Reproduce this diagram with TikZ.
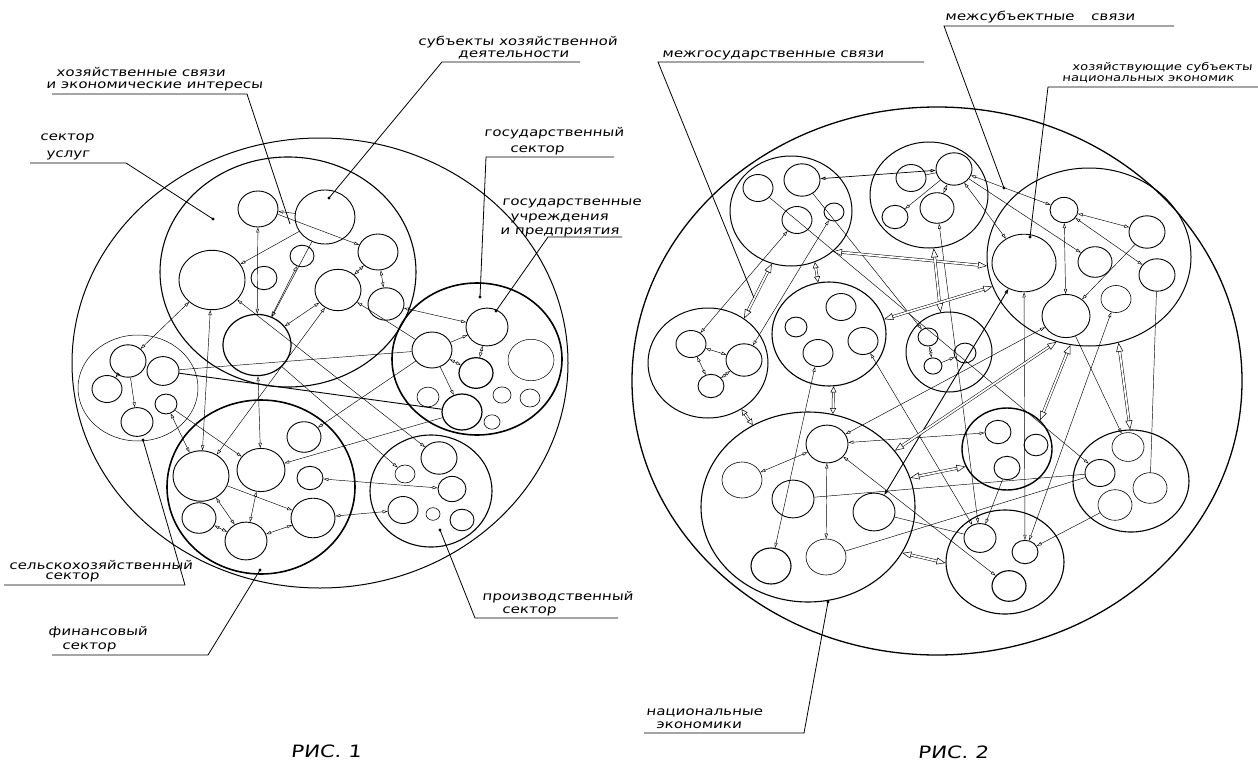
\documentclass[tikz,border=0pt]{standalone}
\usepackage{fontspec}
\newfontfamily\hand[FakeStretch=1.25,FakeSlant=0.12]{DejaVu Sans}
\usetikzlibrary{shapes.geometric,arrows.meta}
\tikzset{
 cir/.style={draw, ellipse, inner sep=0pt, line width=0.9pt, minimum width={2*#1}, minimum height={1.8*#1}},
 ell/.style 2 args={draw, ellipse, inner sep=0pt, minimum width={2*#1}, minimum height={2*#2}},
 onew/.style={line width=0.45pt, -{Triangle[open,length=5pt,width=3.2pt]}},
 twow/.style={line width=0.45pt, {Triangle[open,length=5pt,width=3.2pt]}-{Triangle[open,length=5pt,width=3.2pt]}},
 lnk/.style={line width=0.45pt},
 dbl/.style={double, double distance=1.8pt, line width=0.5pt, {Triangle[open,length=9pt,width=7pt]}-{Triangle[open,length=9pt,width=7pt]}},
 dbls/.style={double, double distance=1.6pt, line width=0.5pt, {Triangle[open,length=6pt,width=6pt]}-{Triangle[open,length=6pt,width=6pt]}},
 lead/.style={line width=0.8pt},
 lab/.style={font={\hand\fontsize{12}{12}\selectfont}, inner sep=0pt, anchor=west},
 labs/.style={font={\hand\fontsize{10.5}{10.5}\selectfont}, inner sep=0pt, anchor=west},
 figcap/.style={font={\hand\fontsize{17}{17}\selectfont}, inner sep=0pt},
}
\begin{document}
\begin{tikzpicture}[x=1pt,y=-1pt]
\useasboundingbox (0,0) rectangle (1258,760);
\fill[white] (0,0) rectangle (1258,760);

% ================= FIGURE 1 =================
\node[ell={248}{225}, line width=1pt] (O1) at (320,363) {};
\node[ell={128}{115}, line width=1.1pt] (S) at (288,272) {};
\node[ell={60}{53}, line width=0.5pt] (A) at (138,388) {};
\node[ell={85}{76}, line width=1.6pt] (G) at (477,359) {};
\node[ell={94}{87}, line width=1.6pt] (F) at (261,487) {};
\node[ell={61}{56}, line width=1.1pt] (P) at (431,491) {};

\node[cir=20] (c1) at (258,209) {};
\node[cir=30] (c2) at (325,217) {};
\node[cir=33] (c3) at (212,280) {};
\node[cir=13] (c4) at (264,278) {};
\node[cir=12] (c5) at (302,256) {};
\node[cir=20] (c6) at (378,252) {};
\node[cir=23] (c7) at (338,290) {};
\node[cir=18] (c8) at (386,304) {};
\node[cir=34,line width=1.2pt] (c9) at (257,345) {};

\node[cir=18] (a1) at (128,361) {};
\node[cir=16] (a2) at (163,371) {};
\node[cir=15] (a3) at (107,389) {};
\node[cir=11] (a4) at (166,404) {};
\node[cir=16] (a5) at (137,422) {};

\node[cir=21] (s1) at (487,327) {};
\node[cir=20] (s2) at (432,350) {};
\node[cir=17,line width=1.2pt] (s3) at (476,373) {};
\node[cir=23,line width=0.5pt] (s4) at (531,360) {};
\node[cir=11,line width=0.6pt] (s5) at (428,397) {};
\node[cir=20,line width=1.2pt] (s6) at (462,412) {};
\node[cir=9,line width=0.6pt] (s7) at (502,395) {};
\node[cir=10,line width=0.6pt] (s8) at (530,398) {};
\node[cir=8,line width=0.6pt] (s9) at (492,422) {};

\node[cir=28] (f1) at (201,476) {};
\node[cir=24] (f2) at (261,470) {};
\node[cir=17] (f3) at (304,437) {};
\node[cir=13] (f4) at (310,478) {};
\node[cir=17] (f5) at (199,518) {};
\node[cir=21] (f6) at (246,541) {};
\node[cir=22] (f7) at (313,518) {};

\node[cir=18] (p1) at (439,458) {};
\node[cir=10,line width=0.6pt] (p2) at (405,474) {};
\node[cir=14] (p3) at (452,489) {};
\node[cir=15] (p4) at (403,510) {};
\node[cir=7,line width=0.6pt] (p5) at (433,514) {};
\node[cir=12] (p6) at (462,520) {};

% connectors fig 1
\draw[onew] (c2) -- (c1);
\draw[onew] (c2) -- (c3);
\draw[onew] (c1.-15) -- (c6);
\draw[twow] (c1) -- (c9);
\draw[onew] (c2) -- (c9);
\draw[twow] (c5) -- (c9);
\draw[twow] (c7) -- (c9);
\draw[twow] (c6) -- (c7);
\draw[twow] (c6) -- (c8);
\draw[twow] (c8) -- (s1);
\draw[twow] (c3) -- (a1);
\draw[twow] (c3) -- (f1);
\draw[twow] (c9) -- (f2);
\draw[twow] (c3) -- (p1);
\draw[twow] (c7) -- (f1);
\draw[onew] (s2) -- (c7);
\draw[line width=0.9pt] (a2) -- (s6);
\draw[lnk] (a2) -- (s2);
\draw[onew] (s2) -- (s1);
\draw[onew] (s2) -- (f3);
\draw[onew] (s6) -- (f2);
\draw[onew] (s2) -- (s6);
\draw[twow] (s1) -- (s3);
\draw[twow] (s2) -- (s3);
\draw[onew] (c9) -- (p2);
\draw[onew] (f1) -- (f7);
\draw[twow] (f1) -- (f6);
\draw[twow] (f2) -- (f6);
\draw[twow] (f5) -- (f6);
\draw[twow] (f6) -- (f7);
\draw[twow] (f7) -- (p4);
\draw[twow] (f4) -- (p3);
\draw[twow] (a4) -- (f1);
\draw[onew] (a4) -- (f2);
\draw[onew] (a1) -- (a3);
\draw[onew] (a1) -- (a5);

% labels fig 1
\node[lab] (t1a) at (418,42) {субъекты хозяйственной};
\node[lab] (t1b) at (458,55) {деятельности};
\coordinate (u1a) at (442,62); \coordinate (u1b) at (580,62); \coordinate (d1) at (329,198);
\draw[lead] (u1b) -- (u1a) -- (d1); \fill (d1) circle (1.6pt);

\node[lab] (t2a) at (56,72) {хозяйственные связи};
\node[lab] (t2b) at (46,86) {и экономические интересы};
\coordinate (u2a) at (52,94); \coordinate (u2b) at (247,94); \coordinate (d2) at (290,224);
\draw[lead] (u2a) -- (u2b) -- (d2);

\node[lab] (t3a) at (40,138) {сектор};
\node[lab] (t3b) at (46,155) {услуг};
\coordinate (u3a) at (30,163); \coordinate (u3b) at (126,163); \coordinate (d3) at (213,219);
\draw[lead] (u3a) -- (u3b) -- (d3); \fill (d3) circle (1.6pt);

\node[lab] (t4a) at (484,133) {государственный};
\node[lab] (t4b) at (510,150) {сектор};
\coordinate (u4a) at (614,157); \coordinate (u4b) at (486,157); \coordinate (d4) at (480,297);
\draw[lead] (u4a) -- (u4b) -- (d4); \fill (d4) circle (1.6pt);

\node[lab] (t5a) at (502,203) {государственные};
\node[lab] (t5b) at (510,218) {учреждения};
\node[lab] (t5c) at (500,232) {и предприятия};
\coordinate (u5a) at (622,237); \coordinate (u5b) at (548,237); \coordinate (d5) at (496,311);
\draw[lead] (u5a) -- (u5b) -- (d5); \fill (d5) circle (1.6pt);

\node[lab] (t6a) at (9,565) {сельскохозяйственный};
\node[lab] (t6b) at (45,577) {сектор};
\coordinate (u6a) at (4,585); \coordinate (u6b) at (185,585); \coordinate (d6) at (143,440);
\draw[lead] (u6a) -- (u6b) -- (d6); \fill (d6) circle (1.6pt);

\node[lab] (t7a) at (48,632) {финансовый};
\node[lab] (t7b) at (62,647) {сектор};
\coordinate (u7a) at (52,655); \coordinate (u7b) at (208,655); \coordinate (d7) at (260,570);
\draw[lead] (u7a) -- (u7b) -- (d7); \fill (d7) circle (1.6pt);

\node[lab] (t8a) at (482,597) {производственный};
\node[lab] (t8b) at (502,611) {сектор};
\coordinate (u8a) at (618,618); \coordinate (u8b) at (475,618); \coordinate (d8) at (440,530);
\draw[lead] (u8a) -- (u8b) -- (d8); \fill (d8) circle (1.6pt);

\node[figcap] (r1) at (326,751) {РИС. 1};

% ================= FIGURE 2 =================
\node[ell={305}{274}, line width=1.3pt] (O2) at (937,381) {};
\node[ell={61}{55}, line width=1pt] (N1) at (791,211) {};
\node[ell={59}{53}, line width=1pt] (N2) at (929,195) {};
\node[ell={102}{89}, line width=1pt] (N3) at (1089,257) {};
\node[ell={60}{55}, line width=1pt] (N4) at (708,363) {};
\node[ell={57}{52}, line width=1.1pt] (N5) at (829,334) {};
\node[ell={43}{40}, line width=1pt] (N6) at (949,352) {};
\node[ell={107}{95}, line width=1.1pt] (N7) at (808,507) {};
\node[ell={45}{41}, line width=1.4pt] (N8) at (1007,449) {};
\node[ell={58}{51}, line width=1.1pt] (N9) at (1131,481) {};
\node[ell={59}{52}, line width=1.1pt] (N10) at (1005,562) {};

\node[cir=15] (n1a) at (758,188) {};
\node[cir=18] (n1b) at (802,180) {};
\node[cir=15] (n1c) at (797,220) {};
\node[cir=10] (n1d) at (834,212) {};
\node[cir=15] (n2a) at (911,178) {};
\node[cir=18] (n2b) at (954,169) {};
\node[cir=13] (n2c) at (895,217) {};
\node[cir=17] (n2d) at (937,208) {};
\node[cir=32] (n3a) at (1024,263) {};
\node[cir=14] (n3b) at (1064,210) {};
\node[cir=18] (n3c) at (1147,232) {};
\node[cir=17] (n3d) at (1095,262) {};
\node[cir=18] (n3e) at (1157,275) {};
\node[cir=24] (n3f) at (1066,316) {};
\node[cir=15,line width=0.6pt] (n3g) at (1116,299) {};
\node[cir=15] (n4a) at (691,344) {};
\node[cir=18] (n4b) at (744,360) {};
\node[cir=13] (n4c) at (711,386) {};
\node[cir=15] (n5a) at (841,307) {};
\node[cir=11] (n5b) at (796,327) {};
\node[cir=15] (n5c) at (818,353) {};
\node[cir=15] (n5d) at (863,341) {};
\node[cir=10] (n6a) at (928,337) {};
\node[cir=11] (n6b) at (965,353) {};
\node[cir=9] (n6c) at (933,366) {};
\node[cir=21] (n7a) at (827,444) {};
\node[cir=20,line width=0.6pt] (n7b) at (742,480) {};
\node[cir=21] (n7c) at (793,499) {};
\node[cir=21] (n7d) at (874,512) {};
\node[cir=20,line width=1.1pt] (n7e) at (771,566) {};
\node[cir=20,line width=0.6pt] (n7f) at (826,557) {};
\node[cir=13] (n8a) at (998,432) {};
\node[cir=12] (n8b) at (1036,445) {};
\node[cir=13] (n8c) at (1007,468) {};
\node[cir=16,line width=0.6pt] (n9a) at (1128,447) {};
\node[cir=15] (n9b) at (1100,473) {};
\node[cir=17,line width=0.6pt] (n9c) at (1150,488) {};
\node[cir=17,line width=0.6pt] (n9d) at (1115,505) {};
\node[cir=16] (n10a) at (980,538) {};
\node[cir=13] (n10b) at (1025,552) {};
\node[cir=17,line width=1.1pt] (n10c) at (1009,586) {};

% connectors fig 2
\draw[twow,line width=0.7pt] (n1b) -- (n2b);
\draw[lnk] (n2a) -- (n2b);
\draw[onew] (n2b) -- (n2c);
\draw[twow] (n2b) -- (n2d);
\draw[twow] (n2b) -- (n3b);
\draw[twow] (n2b) -- (n3a);
\draw[onew] (n2b) -- (n3d);
\draw[twow] (n3b) -- (n3c);
\draw[twow] (n3b) -- (n3f);
\draw[twow] (n3b) -- (n3e);
\draw[onew] (n3c) -- (n3f);
\draw[onew] (n1a) -- (n9b);
\draw[onew] (n1b) -- (n6a);
\draw[twow] (n1c) -- (n4a);
\draw[twow] (n1d) -- (n4b);
\draw[twow] (n4a) -- (n4b);
\draw[twow] (n4a) -- (n4c);
\draw[twow] (n4b) -- (n4c);
\draw[twow] (n5c) -- (n7e);
\draw[twow] (n5d) -- (n10a);
\draw[twow] (n2d) -- (n10a);
\draw[twow] (n3a) -- (n10b);
\draw[twow] (n3g) -- (n10b);
\draw[onew] (n9d) -- (n10b);
\draw[twow] (n7a) -- (n10c);
\draw[lnk] (n7d) -- (n10a);
\draw[lnk] (n7f) -- (n9b);
\draw[lnk] (n7c) -- (n9b);
\draw[twow] (n7a) -- (n8a);
\draw[twow] (n7a) -- (n7b);
\draw[twow] (n7a) -- (n7f);
\draw[twow] (n3f) -- (n7a);
\draw[twow,line width=0.9pt] (n3a) -- (n7d);
\draw[lnk] (n3e) -- (n9c);
\draw[onew] (n3f) -- (n9a);
\draw[onew] (n8c) -- (n10a);
\draw[twow] (n6a) -- (n6c);
\draw[onew] (n6c) -- (n6b);

\draw[dbl] (N1.250) -- (N4.51);
\draw[dbls] (N1.295) -- (N5.102);
\draw[dbl] (N1.316) -- (N3.185);
\draw[dbl] (N2.275) -- (N6.102);
\draw[dbl] (N5.15) -- (N3.197);
\draw[dbls] (N4.306) -- (N7.124);
\draw[dbls] (N5.275) -- (N7.75);
\draw[dbl] (N3.258) -- (N8.41);
\draw[dbl] (N3.289) -- (N9.91);
\draw[dbl] (N7.33) -- (N3.249);
\draw[dbl] (N7.16) -- (N8.203);
\draw[dbl] (N7.334) -- (N10.181);

% labels fig 2
\node[lab] (m1) at (662,55) {межгосударственные связи};
\coordinate (v1a) at (924,62); \coordinate (v1b) at (658,62); \coordinate (e1) at (754,298);
\draw[lead] (v1a) -- (v1b) -- (e1);

\node[lab] (m2) at (945,17) {межсубъектные\quad\ связи};
\coordinate (v2a) at (1174,26); \coordinate (v2b) at (944,26); \coordinate (e2) at (1004,188);
\draw[lead] (v2a) -- (v2b) -- (e2); \fill (e2) circle (1.6pt);

\node[labs] (m3a) at (1072,68) {хозяйствующие субъекты};
\node[labs] (m3b) at (1062,79) {национальных экономик};
\coordinate (v3a) at (1258,87); \coordinate (v3b) at (1048,87); \coordinate (e3) at (1030,237);
\draw[lead] (v3a) -- (v3b) -- (e3); \fill (e3) circle (1.6pt);

\node[lab] (m4a) at (646,713) {национальные};
\node[lab] (m4b) at (656,725) {экономики};
\coordinate (v4a) at (644,733); \coordinate (v4b) at (804,733); \coordinate (e4) at (828,602);
\draw[lead] (v4a) -- (v4b) -- (e4); \fill (e4) circle (1.6pt);

\node[figcap] (r2) at (953,752) {РИС. 2};
\end{tikzpicture}
\end{document}
